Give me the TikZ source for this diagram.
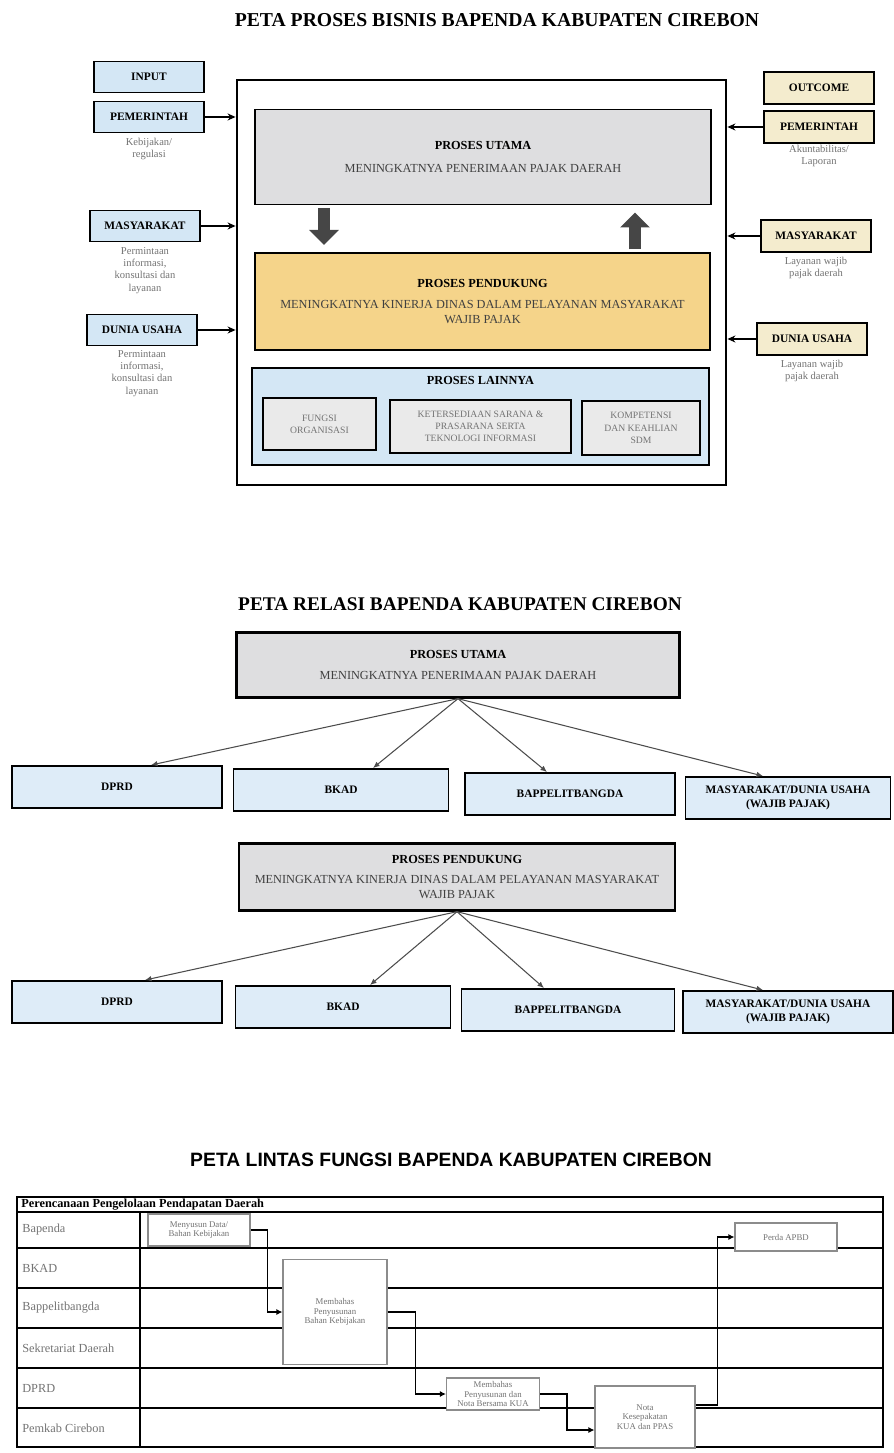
\documentclass[tikz,border=0pt]{standalone}
\usepackage{fontspec}
\setmainfont{Liberation Serif}
\setsansfont{Liberation Sans}
\usetikzlibrary{arrows.meta}

\definecolor{inblue}{RGB}{212,231,245}
\definecolor{relblue}{RGB}{222,236,248}
\definecolor{outcream}{RGB}{244,236,206}
\definecolor{boxgray}{RGB}{222,222,224}
\definecolor{innergray}{RGB}{234,234,234}
\definecolor{pendyellow}{RGB}{245,212,138}
\definecolor{notegray}{RGB}{115,115,115}
\definecolor{arrowgray}{RGB}{70,70,70}

\begin{document}
\begin{tikzpicture}[x=0.2mm,y=-0.2mm,
  sectitle/.style={font=\fontsize{11.2}{13}\selectfont\bfseries},
  box/.style={draw,line width=1.1pt,align=center,inner sep=1pt},
  inbox/.style={box,fill=inblue,minimum width=22mm,minimum height=6.2mm,font=\fontsize{6.5}{8}\selectfont\bfseries},
  outbox/.style={box,fill=outcream,minimum width=22mm,minimum height=6.4mm,font=\fontsize{6.5}{8}\selectfont\bfseries},
  note/.style={anchor=north,align=center,inner sep=0,text=notegray,font=\fontsize{6}{7}\selectfont},
  conn/.style={line width=0.8pt,-{Stealth[length=1.6mm,width=1.4mm]}},
  bigbox/.style={box,font=\fontsize{7}{8.5}\selectfont},
  fat/.style={draw=arrowgray,line width=2.4mm,-{Triangle[width=5.8mm,length=3mm]}},
  inner/.style={box,fill=innergray,text=notegray,font=\fontsize{5.5}{7}\selectfont},
  relbox/.style={box,fill=relblue,minimum height=8.4mm,font=\fontsize{6.5}{8}\selectfont\bfseries},
  rel/.style={draw=black!70,line width=0.6pt,-{Latex[length=1.3mm,width=1.1mm]}},
  lane/.style={line width=1.4pt},
  lanelabel/.style={anchor=west,inner sep=0,text=notegray,font=\fontsize{7}{8}\selectfont},
  procbox/.style={draw=black!45,line width=0.6pt,fill=white,align=center,inner sep=1pt,text=notegray,font=\fontsize{5}{5.6}\selectfont},
  flow/.style={line width=0.9pt,-{Latex[length=1.2mm,width=1.2mm]}}]
\useasboundingbox (0,0) rectangle (893,1453);

% peta proses bisnis
\node [sectitle] (title1) at (497,20) {PETA PROSES BISNIS BAPENDA KABUPATEN CIREBON};
\node [draw,line width=1.6pt,minimum width=97.8mm,minimum height=81mm] (frame) at (481.5,282.5) {};

\node [inbox] (input) at (149,77) {INPUT};
\node [inbox] (inpem) at (149,117) {PEMERINTAH};
\node [inbox] (inmas) at (145,226) {MASYARAKAT};
\node [inbox] (indu) at (142,330) {DUNIA USAHA};
\node [note] (inpemnote) at (149,138) {Kebijakan/\\regulasi};
\node [note] (inmasnote) at (145,247) {Permintaan\\informasi,\\konsultasi dan\\layanan};
\node [note] (indunote) at (142,350) {Permintaan\\informasi,\\konsultasi dan\\layanan};

\node [outbox] (outcome) at (819,88) {OUTCOME};
\node [outbox] (outpem) at (819,127) {PEMERINTAH};
\node [outbox] (outmas) at (816,236) {MASYARAKAT};
\node [outbox] (outdu) at (812,339) {DUNIA USAHA};
\node [note] (outpemnote) at (819,145) {Akuntabilitas/\\Laporan};
\node [note] (outmasnote) at (816,257) {Layanan wajib\\pajak daerah};
\node [note] (outdunote) at (812,360) {Layanan wajib\\pajak daerah};

\draw [conn] (inpem.east) -- (inpem.east -| frame.west);
\draw [conn] (inmas.east) -- (inmas.east -| frame.west);
\draw [conn] (indu.east) -- (indu.east -| frame.west);
\draw [conn] (outpem.west) -- (outpem.west -| frame.east);
\draw [conn] (outmas.west) -- (outmas.west -| frame.east);
\draw [conn] (outdu.west) -- (outdu.west -| frame.east);

\node [bigbox,fill=boxgray,minimum width=91.2mm,minimum height=19mm] (utama) at (483,157)
  {\textbf{PROSES UTAMA}\\[5pt]{\color{black!75}MENINGKATNYA PENERIMAAN PAJAK DAERAH}};
\node [bigbox,fill=pendyellow,minimum width=91mm,minimum height=19.4mm] (pendukung) at (482.5,301.5)
  {\textbf{PROSES PENDUKUNG}\\[3pt]{\color{black!75}MENINGKATNYA KINERJA DINAS DALAM PELAYANAN MASYARAKAT}\\{\color{black!75}WAJIB PAJAK}};
\node [box,fill=inblue,minimum width=91.4mm,minimum height=19.4mm] (lainnya) at (480.5,416.5) {};
\node [font=\fontsize{7}{8}\selectfont\bfseries] (lainnyatitle) at (480.5,380) {PROSES LAINNYA};
\node [inner,minimum width=22.6mm,minimum height=10.4mm] (fungsi) at (319.5,424) {FUNGSI\\ORGANISASI};
\node [inner,minimum width=36.2mm,minimum height=10.6mm] (sarana) at (480.5,426.5) {KETERSEDIAAN SARANA \&\\PRASARANA SERTA\\TEKNOLOGI INFORMASI};
\node [inner,minimum width=23.6mm,minimum height=10.8mm] (sdm) at (641,428) {KOMPETENSI\\DAN KEAHLIAN\\SDM};

\draw [fat,shorten <=1.5pt,shorten >=4pt] (324,0 |- utama.south) -- (324,0 |- pendukung.north);
\draw [fat,shorten <=1.5pt,shorten >=4pt] (635,0 |- pendukung.north) -- (635,0 |- utama.south);

% peta relasi
\node [sectitle,font=\fontsize{11}{13}\selectfont\bfseries] (title2) at (460,604) {PETA RELASI BAPENDA KABUPATEN CIREBON};
\node [bigbox,fill=boxgray,line width=1.3pt,minimum width=88.6mm,minimum height=13mm] (utama2) at (458,665)
  {\textbf{PROSES UTAMA}\\[4pt]{\color{black!75}MENINGKATNYA PENERIMAAN PAJAK DAERAH}};
\node [relbox,minimum width=42mm] (dprd) at (117,787) {DPRD};
\node [relbox,minimum width=43mm] (bkad) at (341,790) {BKAD};
\node [relbox,minimum width=42mm] (bappel) at (570,794) {BAPPELITBANGDA};
\node [relbox,minimum width=41mm] (masy) at (788,798) {MASYARAKAT/DUNIA USAHA\\(WAJIB PAJAK)};
\draw [rel] (utama2.south) -- (151,0 |- dprd.north);
\draw [rel] (utama2.south) -- (373,0 |- bkad.north);
\draw [rel] (utama2.south) -- (547,0 |- bappel.north);
\draw [rel] (utama2.south) -- (763,0 |- masy.north);

\node [bigbox,fill=boxgray,line width=1.3pt,minimum width=87.2mm,minimum height=13.4mm] (pend2) at (457,877)
  {\textbf{PROSES PENDUKUNG}\\[3pt]{\color{black!75}MENINGKATNYA KINERJA DINAS DALAM PELAYANAN MASYARAKAT}\\{\color{black!75}WAJIB PAJAK}};
\node [relbox,minimum width=42mm] (dprdb) at (117,1002) {DPRD};
\node [relbox,minimum width=43mm] (bkadb) at (343,1007) {BKAD};
\node [relbox,minimum width=42.6mm] (bappelb) at (568,1010) {BAPPELITBANGDA};
\node [relbox,minimum width=42mm] (masyb) at (788,1012) {MASYARAKAT/DUNIA USAHA\\(WAJIB PAJAK)};
\draw [rel] (pend2.south) -- (145,0 |- dprdb.north);
\draw [rel] (pend2.south) -- (370,0 |- bkadb.north);
\draw [rel] (pend2.south) -- (544,0 |- bappelb.north);
\draw [rel] (pend2.south) -- (763,0 |- masyb.north);

% peta lintas fungsi
\node [font=\fontsize{11}{13}\selectfont\sffamily\bfseries] (title3) at (451,1160) {PETA LINTAS FUNGSI BAPENDA KABUPATEN CIREBON};
\draw [line width=1.6pt] (17,1197) rectangle (883,1447);
\foreach \y in {1212,1248,1288,1328,1368,1408}
  \draw [lane] (17,\y) -- (883,\y);
\draw [lane] (140,1212) -- (140,1447);
\node [anchor=west,inner sep=0,font=\fontsize{7}{8}\selectfont\bfseries] (header) at (21,1205) {Perencanaan Pengelolaan Pendapatan Daerah};
\foreach \t/\y [count=\i] in {Bapenda/1230,BKAD/1268,Bappelitbangda/1308,Sekretariat Daerah/1348,DPRD/1388,Pemkab Cirebon/1428}
  \node [lanelabel] (lane\i) at (22,\y) {\t};

\node [procbox,minimum width=20.4mm,minimum height=6.4mm] (p1) at (199,1230) {Menyusun Data/\\Bahan Kebijakan};
\node [procbox,minimum width=20.8mm,minimum height=21mm] (p2) at (335,1312) {Membahas\\Penyusunan\\Bahan Kebijakan};
\node [procbox,minimum width=18.6mm,minimum height=6.4mm] (p3) at (493,1394) {Membahas\\Penyusunan dan\\Nota Bersama KUA};
\node [procbox,minimum width=20mm,minimum height=12.4mm] (p4) at (645,1417) {Nota\\Kesepakatan\\KUA dan PPAS};
\node [procbox,minimum width=20.4mm,minimum height=5.6mm] (p5) at (786,1237) {Perda APBD};

\draw [flow] (p1.east) -- ++(17,0) |- (p2.west);
\draw [flow] (p2.east) -- ++(28,0) |- (p3.west);
\draw [flow] (p3.east) -- ++(27,0) |- (p4.west |- 0,1430);
\draw [flow] (p4.east |- 0,1405) -- ++(22,0) |- (p5.west);
\end{tikzpicture}
\end{document}
